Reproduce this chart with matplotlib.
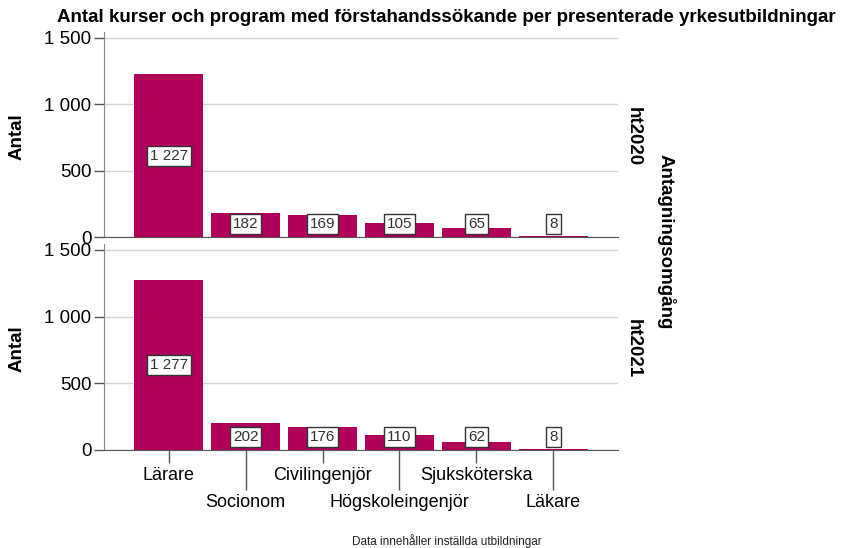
import matplotlib
matplotlib.use("Agg")
import matplotlib.pyplot as plt
from matplotlib.ticker import FixedLocator, FuncFormatter

plt.rcParams['font.family'] = ['Liberation Sans', 'DejaVu Sans']

categories = ["Lärare", "Socionom", "Civilingenjör", "Högskoleingenjör", "Sjuksköterska", "Läkare"]
panels = ["ht2020", "ht2021"]
values_ht2020 = [1227, 182, 169, 105, 65, 8]
values_ht2021 = [1277, 202, 176, 110, 62, 8]
yticks = [0, 500, 1000, 1500]

title = "Antal kurser och program med förstahandssökande per presenterade yrkesutbildningar"
footer = "Data innehåller inställda utbildningar"
facet_title = "Antagningsomgång"
ylabel = "Antal"

bar_color = "#B0005A"
W, H = 841, 548
fig = plt.figure(figsize=(W / 100, H / 100), dpi=100)

def fmt(v, pos=None):
    return f"{int(v):,}".replace(",", " ")

left = 104 / W
width = (618 - 104) / W
axes_px = [(32, 237), (244, 450)]
label_low = [100, 95]
ymax = 1545
for i, (vals, panel) in enumerate(zip([values_ht2020, values_ht2021], panels)):
    top, bot = axes_px[i]
    ax = fig.add_axes([left, 1 - bot / H, width, (bot - top) / H])
    x = list(range(len(categories)))
    ax.bar(x, vals, width=0.89, color=bar_color, linewidth=0, zorder=3)
    ax.set_xlim(-0.84, len(categories) - 1 + 0.84)
    ax.set_ylim(0, ymax)
    ax.set_yticks(yticks)
    ax.yaxis.set_major_formatter(FuncFormatter(fmt))
    ax.grid(axis="y", color="#d4d4d4", linewidth=1, zorder=0)
    for s in ["top", "right"]:
        ax.spines[s].set_visible(False)
    ax.spines["left"].set_color("#888888")
    ax.spines["bottom"].set_color("#555555")
    ax.spines["bottom"].set_zorder(2.5)
    ax.tick_params(axis="y", direction="out", length=7, width=1, color="#555555",
                   labelsize=13.5, pad=2, labelcolor="black")
    for xi, v in zip(x, vals):
        ly = v / 2 if v > 600 else label_low[i]
        ax.text(xi, ly, fmt(v), ha="center", va="center", fontsize=11, color="#333333",
                zorder=5,
                bbox=dict(boxstyle="square,pad=0.2", facecolor="white", edgecolor="#333333", linewidth=1))
    if i == 0:
        ax.set_xticks([])
    else:
        ax.xaxis.set_major_locator(FixedLocator(x[0::2]))
        ax.xaxis.set_minor_locator(FixedLocator(x[1::2]))
        ax.set_xticklabels(categories[0::2])
        ax.set_xticklabels(categories[1::2], minor=True)
        ax.tick_params(axis="x", which="major", direction="out", length=9, width=1,
                       color="#555555", labelsize=13, pad=3)
        ax.tick_params(axis="x", which="minor", direction="out", length=29, width=1,
                       color="#555555", labelsize=13, pad=3)
    cy = 1 - ((top + bot) / 2 + 2) / H
    fig.text(633 / W, cy, panel, rotation=-90, ha="center", va="center",
             fontsize=13.5, fontweight="bold")
    fig.text(17 / W, cy, ylabel, rotation=90, ha="center", va="center",
             fontsize=13.5, fontweight="bold")

fig.text(446 / W, 1 - 18 / H, title, ha="center", va="center", fontsize=13.5, fontweight="bold")
fig.text(666 / W, 1 - 242 / H, facet_title, rotation=-90, ha="center", va="center",
         fontsize=13.5, fontweight="bold")
fig.text(447 / W, 1 - 541 / H, footer, ha="center", va="center", fontsize=8.5, color="#222222")

fig.savefig("out.png", dpi=100)
